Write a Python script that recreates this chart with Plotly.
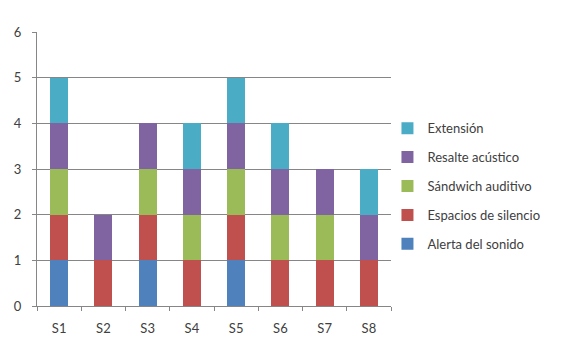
import plotly.graph_objects as go

sessions = ["S1", "S2", "S3", "S4", "S5", "S6", "S7", "S8"]

# Count per strategy and session (bottom of the stack first)
alerta_sonido = [1, 0, 1, 0, 1, 0, 0, 0]
espacios_silencio = [1, 1, 1, 1, 1, 1, 1, 1]
sandwich_auditivo = [1, 0, 1, 1, 1, 1, 1, 0]
resalte_acustico = [1, 1, 1, 1, 1, 1, 1, 1]
extension = [1, 0, 0, 1, 1, 1, 0, 1]

series = [
    ("Alerta del sonido", alerta_sonido, "#4F81BD"),
    ("Espacios de silencio", espacios_silencio, "#C0504D"),
    ("Sándwich auditivo", sandwich_auditivo, "#9BBB59"),
    ("Resalte acústico", resalte_acustico, "#8064A2"),
    ("Extensión", extension, "#4BACC6"),
]

fig = go.Figure()
n = len(series)
for i, (name, vals, color) in enumerate(series):
    fig.add_trace(go.Bar(
        x=sessions, y=vals, name=name, legendgroup=name,
        legendrank=n - i,  # top segment listed first in the legend
        marker=dict(color=color, line=dict(width=0)),
    ))

font_family = "Lato, 'Open Sans', sans-serif"

fig.update_layout(
    barmode="stack",
    bargap=0.59,
    width=571, height=340,
    margin=dict(l=37, r=180, t=32, b=34),
    paper_bgcolor="white",
    plot_bgcolor="white",
    font=dict(family=font_family, size=13, color="#404040"),
    legend=dict(
        traceorder="grouped",
        x=0.99, xanchor="left",
        y=0.437, yanchor="middle",
        font=dict(size=13, color="#404040"),
        tracegroupgap=9,
        itemwidth=30,
        bgcolor="rgba(0,0,0,0)",
    ),
    xaxis=dict(
        showline=True, linecolor="#868686", linewidth=1,
        ticks="outside", tickson="boundaries", ticklen=4,
        tickcolor="#868686", showgrid=False,
        ticklabelstandoff=10, automargin=False,
        tickfont=dict(size=13, color="#404040"),
    ),
    yaxis=dict(
        range=[0, 6], dtick=1,
        showline=True, linecolor="#868686", linewidth=1,
        ticks="outside", ticklen=4, tickcolor="#868686",
        showgrid=True, gridcolor="#868686", gridwidth=1,
        zeroline=False,
        ticklabelstandoff=8, automargin=False,
        tickfont=dict(size=13, color="#404040"),
    ),
)

fig.write_html("out.html")
